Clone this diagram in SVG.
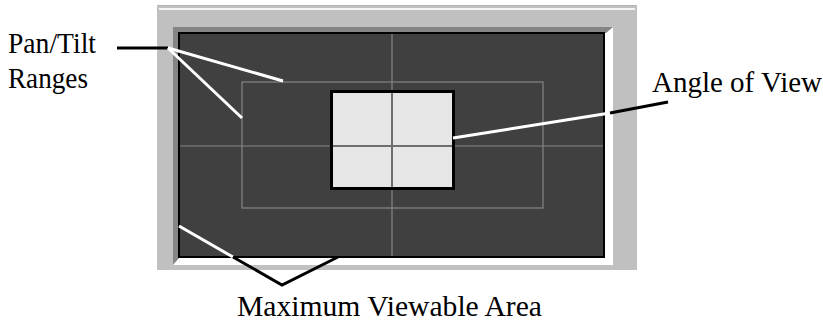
<svg xmlns="http://www.w3.org/2000/svg" width="823" height="321" viewBox="0 0 823 321">
  <style>
    .grid { stroke: #858585; stroke-width: 1.2; fill: none; }
    .lead-w { stroke: #fff; stroke-width: 3; fill: none; stroke-linecap: butt; }
    .lead-k { stroke: #000; stroke-width: 3; fill: none; stroke-linecap: butt; stroke-linejoin: miter; }
  </style>
  <rect width="823" height="321" fill="#fff"/>

  <!-- window frame -->
  <g id="frame">
    <rect x="157" y="5" width="480" height="265" fill="#c0c0c0"/>
    <line x1="158" y1="5.5" x2="636" y2="5.5" stroke="#b4b4b4" stroke-width="1"/>
    <line x1="159" y1="9" x2="635" y2="9" stroke="#f4f4f4" stroke-width="2"/>
    <!-- sunken bevel -->
    <rect x="173" y="27" width="440" height="238" fill="#fff"/>
    <polygon points="173,27 613,27 606,33 179,33 179,258 173,265" fill="#858585"/>
  </g>

  <!-- maximum viewable area with pan/tilt grid -->
  <g id="viewable-area">
    <rect x="179" y="33" width="425" height="224" fill="#404040" stroke="#000" stroke-width="2"/>
    <line class="grid" x1="392" y1="34" x2="392" y2="256"/>
    <line class="grid" x1="180" y1="146" x2="603" y2="146"/>
    <rect class="grid" x="242" y="82" width="301" height="126"/>
  </g>

  <!-- angle of view -->
  <g id="angle-of-view">
    <rect x="331.5" y="91.5" width="122" height="97" fill="#e6e6e6" stroke="#000" stroke-width="3"/>
    <line x1="392" y1="93" x2="392" y2="187" stroke="#6e6e6e" stroke-width="2"/>
    <line x1="333" y1="146" x2="452" y2="146" stroke="#6e6e6e" stroke-width="2"/>
  </g>

  <!-- labels -->
  <g font-family="Liberation Serif, Times New Roman, serif" fill="#000">
    <g id="label-pan-tilt">
      <text x="8" y="53" font-size="30" textLength="88" lengthAdjust="spacingAndGlyphs">Pan/Tilt</text>
      <text x="8" y="88" font-size="30" textLength="80" lengthAdjust="spacingAndGlyphs">Ranges</text>
    </g>
    <g id="label-angle">
      <text x="652" y="92" font-size="29" textLength="170" lengthAdjust="spacingAndGlyphs">Angle of View</text>
    </g>
    <g id="label-maximum">
      <text x="237" y="316" font-size="30" textLength="305" lengthAdjust="spacingAndGlyphs">Maximum Viewable Area</text>
    </g>
  </g>

  <!-- leader lines -->
  <g id="connectors">
    <line class="lead-k" x1="117" y1="48" x2="168" y2="48"/>
    <line class="lead-w" x1="168" y1="48" x2="283" y2="81"/>
    <line class="lead-w" x1="168" y1="48" x2="242" y2="118"/>

    <line class="lead-w" x1="453" y1="138" x2="610" y2="113"/>
    <line class="lead-k" x1="610" y1="113" x2="668" y2="102"/>

    <line class="lead-w" x1="179" y1="226" x2="233" y2="257"/>
    <polyline class="lead-k" points="233,257 282,285 338,257"/>
  </g>
</svg>
